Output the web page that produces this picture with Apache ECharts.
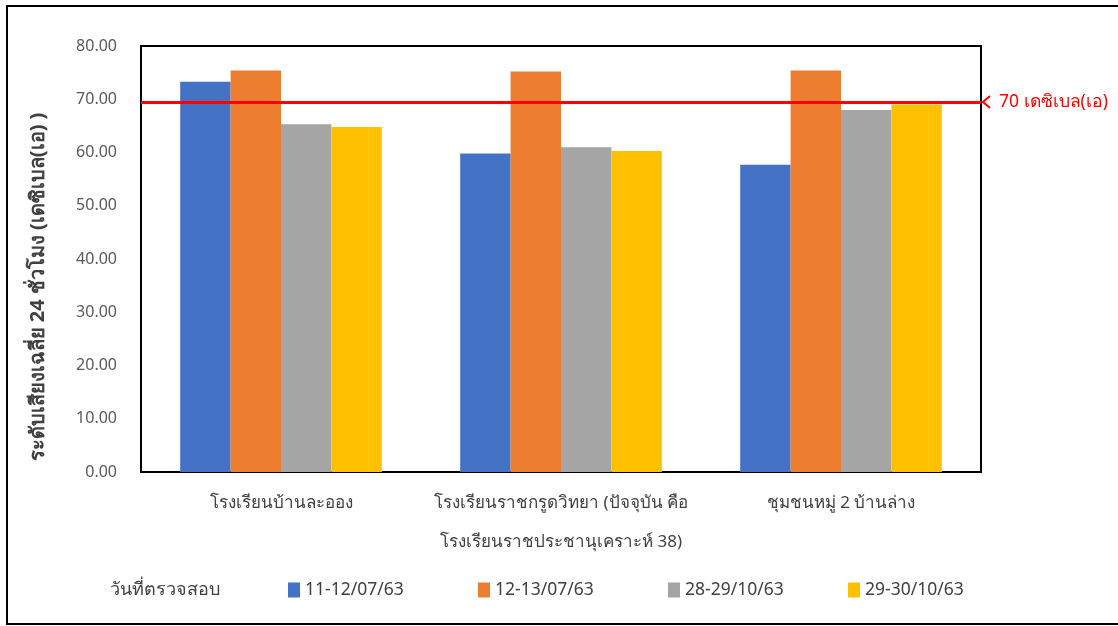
<!DOCTYPE html>
<html>
<head>
<meta charset="utf-8">
<script src="https://cdn.jsdelivr.net/npm/echarts@6/dist/echarts.min.js"></script>
<style>
html,body{margin:0;padding:0;background:#fff;}
#c{width:1118px;height:626px;}
</style>
</head>
<body>
<div id="c"></div>
<script>
var categories = ['โรงเรียนบ้านละออง', 'โรงเรียนราชกรูดวิทยา (ปัจจุบัน คือ\nโรงเรียนราชประชานุเคราะห์ 38)', 'ชุมชนหมู่ 2 บ้านล่าง'];
var seriesNames = ['11-12/07/63', '12-13/07/63', '28-29/10/63', '29-30/10/63'];
var s1 = [73.3, 59.8, 57.7];
var s2 = [75.4, 75.2, 75.4];
var s3 = [65.3, 61.0, 68.0];
var s4 = [64.8, 60.3, 69.0];
var limitValue = 69.4;
var limitLabel = '70 เดซิเบล(เอ)';
var yTicks = [0, 10, 20, 30, 40, 50, 60, 70, 80];
var yTitle = 'ระดับเสียงเฉลี่ย 24 ชั่วโมง (เดซิเบล(เอ) )';
var legendTitle = 'วันที่ตรวจสอบ';

var colors = ['#4472C4', '#ED7D31', '#A5A5A5', '#FFC000'];
var values = [s1, s2, s3, s4];
var FONT = '"Noto Sans", "DejaVu Sans", sans-serif';

var chart = echarts.init(document.getElementById('c'));
var legendLefts = [283, 473, 663, 843];

var series = seriesNames.map(function (n, i) {
  var s = {
    name: n, type: 'bar', data: values[i],
    barGap: '0%', barCategoryGap: '28%',
    itemStyle: { color: colors[i] }
  };
  if (i === 3) {
    s.markLine = {
      silent: true, symbol: ['none', 'none'],
      lineStyle: { color: '#FF0000', width: 3, type: 'solid' },
      data: [{ yAxis: limitValue }],
      label: { show: true, position: 'end', formatter: limitLabel, color: '#FF0000', fontSize: 17.5, fontFamily: FONT, distance: 18 }
    };
  }
  return s;
});

chart.setOption({
  animation: false,
  backgroundColor: '#fff',
  textStyle: { fontFamily: FONT },
  grid: { left: 141, top: 46, width: 840, height: 426, show: true, borderColor: '#000', borderWidth: 2, backgroundColor: 'transparent' },
  legend: seriesNames.map(function (n, i) {
    return { data: [n], left: legendLefts[i], top: 576, itemWidth: 12, itemHeight: 15, icon: 'rect', itemGap: 6,
      textStyle: { fontSize: 17.5, color: '#404040', fontFamily: FONT } };
  }),
  xAxis: {
    type: 'category', data: categories,
    axisLine: { show: true, lineStyle: { color: '#000', width: 2 } },
    axisTick: { show: false },
    axisLabel: { fontSize: 17, color: '#404040', lineHeight: 39, margin: 12, interval: 0, fontFamily: FONT }
  },
  yAxis: {
    type: 'value', min: 0, max: 80, interval: 10,
    axisLine: { show: false }, axisTick: { show: false }, splitLine: { show: false },
    axisLabel: { fontSize: 16, color: '#595959', margin: 24, fontFamily: FONT,
      formatter: function (v) { return yTicks.indexOf(v) >= 0 ? v.toFixed(2) : ''; } }
  },
  graphic: [
    { type: 'rect', shape: { x: 7, y: 6, width: 1125, height: 618 }, style: { fill: 'none', stroke: '#000', lineWidth: 2 }, z: 100 },
    { type: 'text', x: 38, y: 287, rotation: Math.PI / 2,
      style: { text: yTitle, fontSize: 20, fontWeight: 'bold', fill: '#404040', fontFamily: FONT, textAlign: 'center', textVerticalAlign: 'middle' } },
    { type: 'text', x: 110, y: 590,
      style: { text: legendTitle, fontSize: 18, fill: '#404040', fontFamily: FONT, textAlign: 'left', textVerticalAlign: 'middle' } },
    { type: 'polyline', shape: { points: [[990, 96], [983, 102], [990, 108]] }, style: { stroke: '#FF0000', lineWidth: 2, fill: 'none' }, z: 50 }
  ],
  series: series
});
</script>
</body>
</html>
